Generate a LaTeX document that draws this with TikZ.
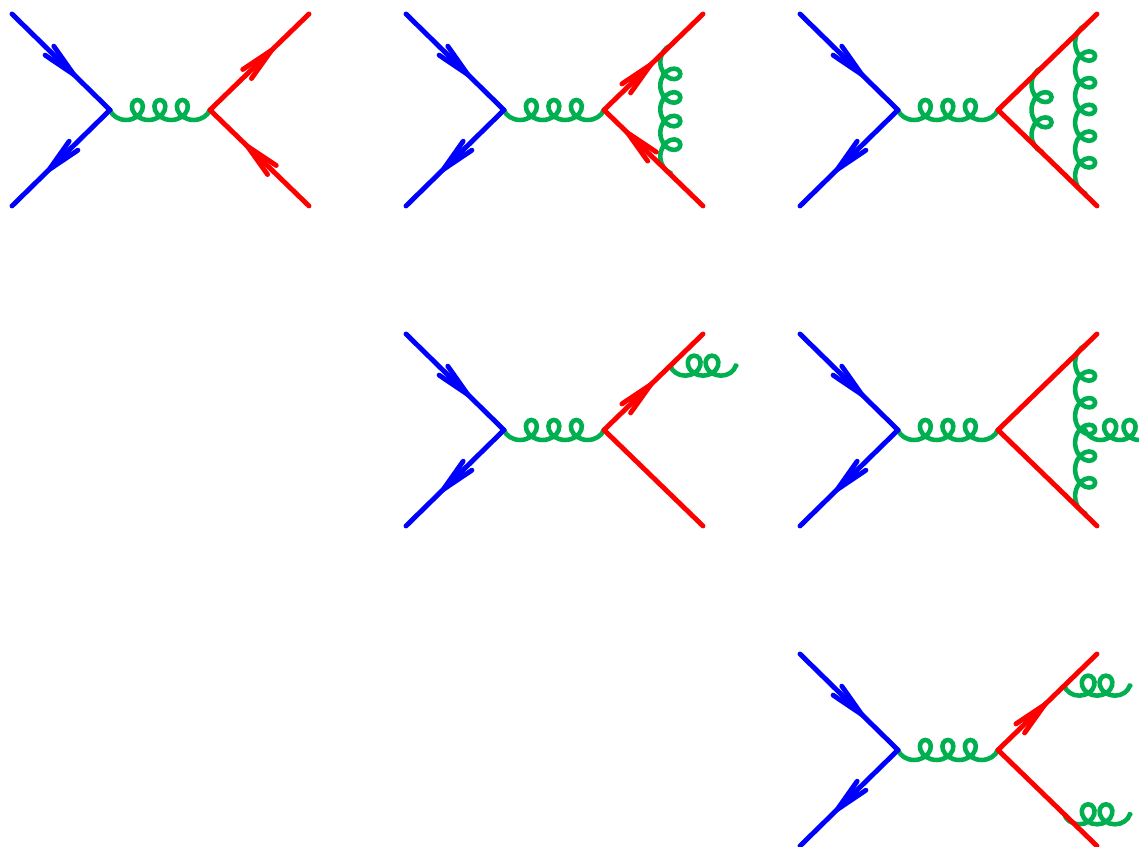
\documentclass[tikz,border=0pt]{standalone}
\usepackage{tikz}
\usetikzlibrary{arrows.meta, calc, decorations.markings, decorations.pathmorphing}

\definecolor{gluongreen}{HTML}{00B050}

\tikzset{
    quark/.style={line width=1.4pt, line cap=round, line join=round},
    barb/.style={postaction={decorate, decoration={markings,
        mark=at position #1 with {\arrow{Straight Barb[length=3.4mm, width=1.25mm, line cap=round]}}}}},
    gluon/.style={line width=1.3pt, line cap=round, draw=gluongreen,
        decorate, decoration={coil, mirror, amplitude=1mm, aspect=1.05, segment length=#1}}
}

% outer legs and the two vertices of one diagram
\newcommand{\legs}{
    \coordinate (q1) at (0.12,0.14);
    \coordinate (q2) at (0.12,2.06);
    \coordinate (v1) at (1.10,1.10);
    \coordinate (v2) at (2.10,1.10);
    \coordinate (f1) at (3.09,0.14);
    \coordinate (f2) at (3.09,2.06);
}

% #1 = extra style of the upper red leg, #2 = extra style of the lower one
\newcommand{\lines}[2]{
    \draw[gluon=2.25mm] (v1) -- (v2);
    \draw[quark, blue, barb=0.73] (q1) -- (v1);
    \draw[quark, blue, barb=0.72] (v1) -- (q2);
    \draw[quark, red, #1] (v2) -- (f1);
    \draw[quark, red, #2] (f2) -- (v2);
}

\begin{document}
\begin{tikzpicture}[x=1cm, y=-1cm]

\useasboundingbox (0,0) rectangle (11.39,8.47);

% first row
\begin{scope}
    \legs
    \lines{barb=0.72}{barb=0.72}
\end{scope}

\begin{scope}[shift={(3.94,0)}]
    \legs
    \coordinate (g1) at ($(v2)!0.67!(f1)$);
    \coordinate (g2) at ($(v2)!0.67!(f2)$);
    \draw[gluon=2.36mm] (g1) -- (g2);
    \lines{barb=0.57}{barb=0.86}
\end{scope}

\begin{scope}[shift={(7.88,0)}]
    \legs
    \coordinate (g1) at ($(v2)!0.44!(f1)$);
    \coordinate (g2) at ($(v2)!0.44!(f2)$);
    \coordinate (g3) at ($(v2)!0.88!(f1)$);
    \coordinate (g4) at ($(v2)!0.88!(f2)$);
    \draw[gluon=2.52mm] (g1) -- (g2);
    \draw[gluon=2.67mm] (g3) -- (g4);
    \lines{}{}
\end{scope}

% second row
\begin{scope}[shift={(3.94,3.20)}]
    \legs
    \coordinate (g1) at ($(v2)!0.67!(f1)$);
    \coordinate (e1) at ($(g1)+(0.66,0)$);
    \draw[gluon=1.78mm] (g1) -- (e1);
    \lines{barb=0.57}{}
\end{scope}

\begin{scope}[shift={(7.88,3.20)}]
    \legs
    \coordinate (g3) at ($(v2)!0.88!(f1)$);
    \coordinate (g4) at ($(v2)!0.88!(f2)$);
    \coordinate (g5) at ($(g3)!0.5!(g4)$);
    \coordinate (e1) at ($(g5)+(0.70,0)$);
    \draw[gluon=1.94mm] (g5) -- (e1);
    \draw[gluon=2.67mm] (g3) -- (g4);
    \lines{}{}
\end{scope}

% third row
\begin{scope}[shift={(7.88,6.40)}]
    \legs
    \coordinate (g1) at ($(v2)!0.67!(f1)$);
    \coordinate (g2) at ($(v2)!0.67!(f2)$);
    \coordinate (e1) at ($(g1)+(0.66,0)$);
    \coordinate (e2) at ($(g2)+(0.66,0)$);
    \draw[gluon=1.78mm] (g1) -- (e1);
    \draw[gluon=1.78mm] (g2) -- (e2);
    \lines{barb=0.57}{}
\end{scope}

\end{tikzpicture}
\end{document}
